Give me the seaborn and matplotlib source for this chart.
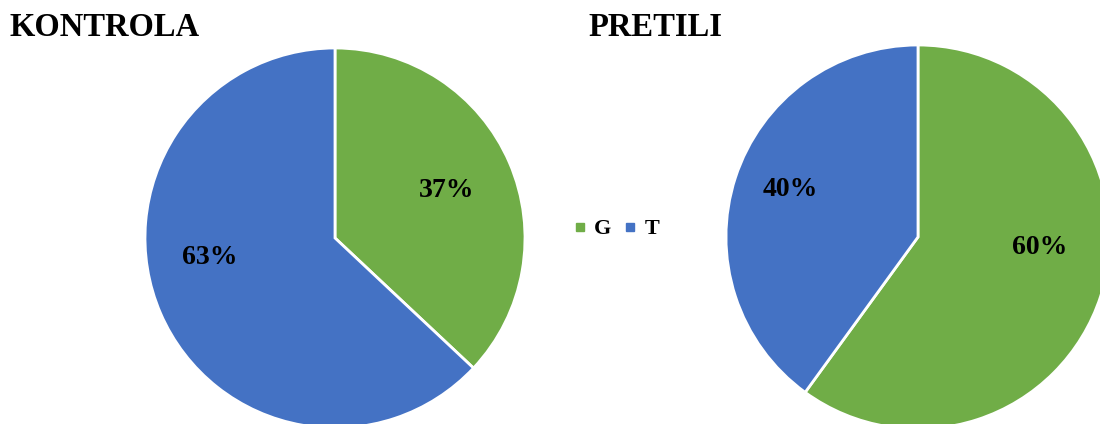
import matplotlib
matplotlib.use("Agg")
import matplotlib.pyplot as plt
from matplotlib.lines import Line2D
import seaborn as sns

sns.set_style("white")
plt.rcParams['font.family'] = ['Liberation Serif', 'DejaVu Serif']
plt.rcParams['text.color'] = 'black'

categories = ["G", "T"]
kontrola = [37, 63]
pretili = [60, 40]
titles = ["KONTROLA", "PRETILI"]
colors = ["#70AD47", "#4472C4"]

W, H = 1100, 424
fig = plt.figure(figsize=(W / 100, H / 100), dpi=100)

def add_pie(cx, cy, r, values, label_pos):
    ax = fig.add_axes([(cx - r) / W, (H - cy - r) / H, 2 * r / W, 2 * r / H])
    wedges, _ = ax.pie(values, colors=colors, startangle=90, counterclock=False,
                       radius=1, wedgeprops=dict(edgecolor="white", linewidth=2))
    ax.set_xlim(-1, 1)
    ax.set_ylim(-1, 1)
    ax.set_aspect("equal")
    ax.axis("off")
    for v, (x, y) in zip(values, label_pos):
        ax.text(x, y, f"{v}%", ha="center", va="center", fontsize=20,
                fontweight="bold", color="black")
    return wedges

add_pie(335, 238, 190, kontrola, [(0.59, 0.25), (-0.66, -0.105)])
add_pie(918, 237, 192, pretili, [(0.635, -0.057), (-0.667, 0.245)])

fig.text(10 / W, 1 - 28 / H, titles[0], ha="left", va="center", fontsize=23.5,
         fontweight="bold", color="black")
fig.text(588 / W, 1 - 28 / H, titles[1], ha="left", va="center", fontsize=23.5,
         fontweight="bold", color="black")

handles = [Line2D([0], [0], marker="s", linestyle="none", markersize=6,
                  markerfacecolor=c, markeredgecolor=c) for c in colors]
leg = fig.legend(handles, categories, loc="center", bbox_to_anchor=(617 / W, 1 - 229 / H),
                 ncol=2, frameon=False, handlelength=0.5, handletextpad=0.4, columnspacing=0.6,
                 prop=dict(family="Liberation Serif", weight="bold", size=16))
for t in leg.get_texts():
    t.set_color("black")

fig.savefig("out.png", dpi=100)
